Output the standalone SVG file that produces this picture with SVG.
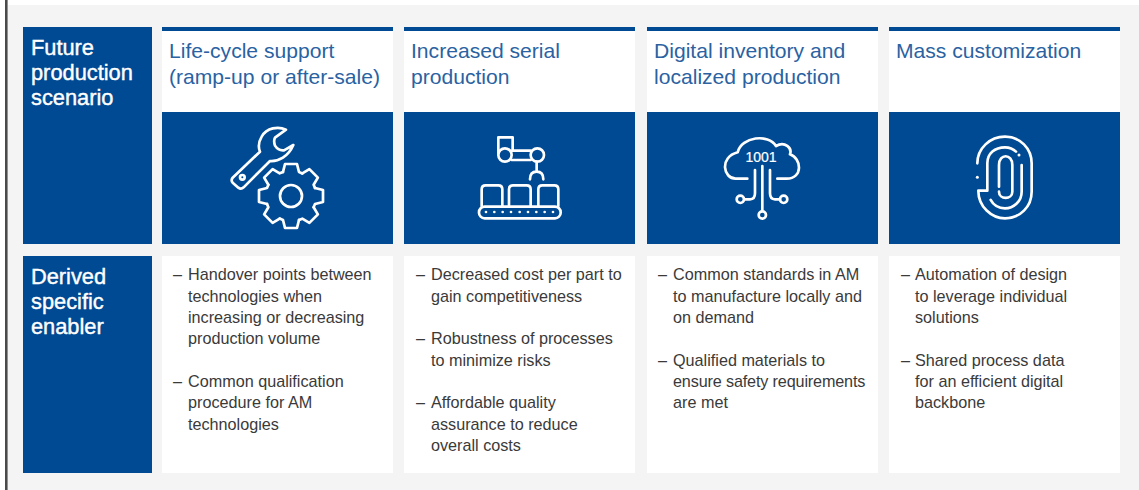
<svg xmlns="http://www.w3.org/2000/svg" xmlns:xlink="http://www.w3.org/1999/xlink" width="1139" height="490" viewBox="0 0 1139 490">
<style>
text{font-family:"Liberation Sans",Arial,sans-serif}
.blue{fill:#004a93}
.white{fill:#fff}
.head{font-size:21.8px;fill:#fff;stroke:#fff;stroke-width:.4px}
.title{font-size:21.1px;fill:#2a62a2}
.body{font-size:16.2px;fill:#3a3a3a}
.ic{fill:none;stroke:#fff;stroke-width:8;stroke-linecap:round;stroke-linejoin:round}
.dot{fill:#fff;stroke:none}
</style>
<defs><path id="tooth" d="M-8-24L-6-32H6L8-24L11.3-22.6"/></defs>
<rect width="1139" height="490" fill="#fff"/>
<rect x="8" y="5" width="1131" height="485" fill="#f4f4f4"/>
<rect x="5" y="0" width="2.6" height="490" fill="#4a4a4a"/>
<g id="row-scenario">
<rect class="blue" x="23" y="27" width="129" height="217"/>
<text class="head" x="31" y="55">Future</text><text class="head" x="31" y="80">production</text><text class="head" x="31" y="105">scenario</text>
</g>
<g id="row-enabler">
<rect class="blue" x="23" y="256" width="129" height="217"/>
<text class="head" x="31" y="284">Derived</text><text class="head" x="31" y="309">specific</text><text class="head" x="31" y="334">enabler</text>
</g>
<g id="col1">
<rect class="white" x="162" y="27" width="231" height="85"/><rect class="blue" x="162" y="27" width="231" height="4"/><rect class="blue" x="162" y="112" width="231" height="132"/>
<text class="title" x="169" y="58">Life-cycle support</text><text class="title" x="169" y="84">(ramp-up or after-sale)</text>
<g class="ic" transform="translate(210 115) scale(.3333)">
<path d="M228 44C205 33 170 38 155 65C145 82 145 98 150 110L68 188Q62 196 68 203L85 218Q93 224 101 217L180 138C205 140 235 125 250 90L222 106Q205 108 195 92Q190 78 195 68Z"/>
<circle cx="97" cy="187" r="7"/>
<circle cx="243" cy="243" r="33"/>
</g>
<g class="ic" style="stroke-width:2.7" transform="translate(291 196)">
<use xlink:href="#tooth"/><use xlink:href="#tooth" transform="rotate(45)"/><use xlink:href="#tooth" transform="rotate(90)"/><use xlink:href="#tooth" transform="rotate(135)"/><use xlink:href="#tooth" transform="rotate(180)"/><use xlink:href="#tooth" transform="rotate(225)"/><use xlink:href="#tooth" transform="rotate(270)"/><use xlink:href="#tooth" transform="rotate(315)"/>
</g>
<rect class="white" x="162" y="256" width="231" height="217"/>
<g class="body"><text x="173" y="280">–</text><text x="188" y="280">Handover points between</text><text x="188" y="301.5">technologies when</text><text x="188" y="323">increasing or decreasing</text><text x="188" y="344">production volume</text><text x="173" y="387">–</text><text x="188" y="387">Common qualification</text><text x="188" y="408">procedure for AM</text><text x="188" y="430">technologies</text></g>
</g>
<g id="col2">
<rect class="white" x="404" y="27" width="231" height="85"/><rect class="blue" x="404" y="27" width="231" height="4"/><rect class="blue" x="404" y="112" width="231" height="132"/>
<text class="title" x="411" y="58">Increased serial</text><text class="title" x="411" y="84">production</text>
<g class="ic" transform="translate(460 120) scale(.3333)">
<rect x="57" y="260" width="245" height="35" rx="17"/>
<path d="M65 258V208Q65 196 77 196H115Q127 196 127 208V258M147 258V208Q147 196 159 196H200Q212 196 212 208V258M235 258V208Q235 196 247 196H283Q295 196 295 208V258"/>
<circle cx="135" cy="105" r="20"/><circle cx="232" cy="105" r="20"/>
<path d="M115 100V52H158V90M155 92H212M155 120H212M230 125V155M210 178Q210 155 230 155Q250 155 250 178"/>
<g class="dot"><circle cx="78" cy="276" r="4"/><circle cx="103" cy="276" r="4"/><circle cx="128" cy="276" r="4"/><circle cx="153" cy="276" r="4"/><circle cx="179" cy="276" r="4"/><circle cx="204" cy="276" r="4"/><circle cx="229" cy="276" r="4"/><circle cx="254" cy="276" r="4"/><circle cx="279" cy="276" r="4"/></g>
</g>
<rect class="white" x="404" y="256" width="231" height="217"/>
<g class="body"><text x="416" y="280">–</text><text x="431" y="280">Decreased cost per part to</text><text x="431" y="301.5">gain competitiveness</text><text x="416" y="344">–</text><text x="431" y="344">Robustness of processes</text><text x="431" y="366">to minimize risks</text><text x="416" y="408">–</text><text x="431" y="408">Affordable quality</text><text x="431" y="430">assurance to reduce</text><text x="431" y="451">overall costs</text></g>
</g>
<g id="col3">
<rect class="white" x="647" y="27" width="231" height="85"/><rect class="blue" x="647" y="27" width="231" height="4"/><rect class="blue" x="647" y="112" width="231" height="132"/>
<text class="title" x="654" y="58">Digital inventory and</text><text class="title" x="654" y="84">localized production</text>
<g class="ic" transform="translate(705 120) scale(.3333)">
<path d="M127 176H92C55 176 42 112 98 97C110 50 190 40 213 78C240 62 262 85 255 103C290 115 295 176 245 176H217"/>
<path d="M172 138V270M150 150V220Q150 238 135 238H118M195 150V220Q195 238 210 238H225"/>
<circle cx="172" cy="285" r="11"/><circle cx="106" cy="238" r="11"/><circle cx="236" cy="238" r="11"/>
</g>
<text x="761" y="162" font-size="14" fill="#fff" stroke="#fff" stroke-width=".2" text-anchor="middle">1001</text>
<rect class="white" x="647" y="256" width="231" height="217"/>
<g class="body"><text x="658" y="280">–</text><text x="673" y="280">Common standards in AM</text><text x="673" y="301.5">to manufacture locally and</text><text x="673" y="323">on demand</text><text x="658" y="366">–</text><text x="673" y="366">Qualified materials to</text><text x="673" y="387" letter-spacing="-.15">ensure safety requirements</text><text x="673" y="408">are met</text></g>
</g>
<g id="col4">
<rect class="white" x="889" y="27" width="231" height="85"/><rect class="blue" x="889" y="27" width="231" height="4"/><rect class="blue" x="889" y="112" width="231" height="132"/>
<text class="title" x="896" y="58">Mass customization</text>
<g class="ic" transform="translate(950 120) scale(.3333)">
<path d="M82 130C82 85 120 50 165 50C210 50 245 85 245 130V215C245 260 210 295 165 295C125 295 85 260 85 212H112V130C112 100 135 82 165 82C178 82 190 87 198 95"/>
<path d="M215 135V215C215 245 190 265 165 265C145 265 130 255 122 240"/>
<path d="M147 200V135C147 100 187 100 187 135V215C187 240 147 240 147 215"/>
<g class="dot"><circle cx="207" cy="105" r="4.5"/><circle cx="82" cy="172" r="4.5"/></g>
</g>
<rect class="white" x="889" y="256" width="231" height="217"/>
<g class="body"><text x="901" y="280">–</text><text x="915" y="280">Automation of design</text><text x="915" y="301.5">to leverage individual</text><text x="915" y="323">solutions</text><text x="901" y="366">–</text><text x="915" y="366">Shared process data</text><text x="915" y="387">for an efficient digital</text><text x="915" y="408">backbone</text></g>
</g>
<g id="connectors"></g>
</svg>
